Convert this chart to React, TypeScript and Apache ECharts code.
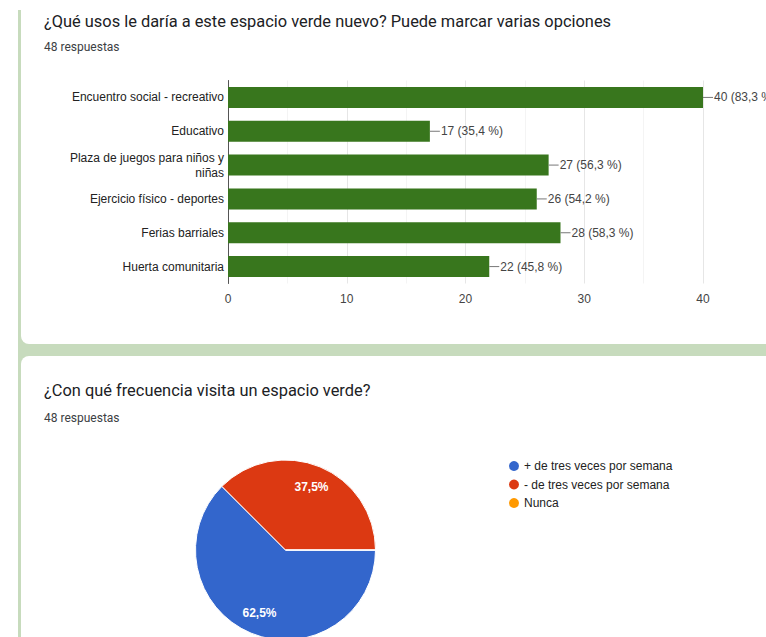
import React, { useEffect, useRef } from "react";
import * as echarts from "echarts";

const usesCategories = [
  "Encuentro social - recreativo",
  "Educativo",
  "Plaza de juegos para niños y\nniñas",
  "Ejercicio físico - deportes",
  "Ferias barriales",
  "Huerta comunitaria",
];
const usesValues = [40, 17, 27, 26, 28, 22];
const totalResponses = 48;
const xTickMax = 40;
const xTickStep = 10;

const freqCategories = [
  "+ de tres veces por semana",
  "- de tres veces por semana",
  "Nunca",
];
const freqValues = [30, 18, 0];
const freqColors = ["#3366cc", "#dc3912", "#ff9900"];

const title1 = "¿Qué usos le daría a este espacio verde nuevo? Puede marcar varias opciones";
const title2 = "¿Con qué frecuencia visita un espacio verde?";
const subtitle1 = "48 respuestas";
const subtitle2 = "48 respuestas";

const fmtPct = (v: number) => v.toFixed(1).replace(".", ",");

export default function App() {
  const ref = useRef<HTMLDivElement>(null);

  useEffect(() => {
    if (!ref.current) return;
    const chart = echarts.init(ref.current, undefined, { renderer: "svg" });
    const pieData = freqCategories.map((n, i) => ({
      name: n,
      value: freqValues[i],
      itemStyle: { color: freqColors[i] },
    }));
    chart.setOption({
      animation: false,
      backgroundColor: "transparent",
      grid: { left: 228, right: 63, top: 80.5, bottom: 353.5, containLabel: false },
      xAxis: {
        type: "value",
        min: 0,
        max: xTickMax,
        interval: xTickStep,
        axisLine: { show: false },
        axisTick: { show: false },
        axisLabel: { color: "#444", fontSize: 12, fontFamily: "Liberation Sans", margin: 9 },
        splitLine: { show: true, lineStyle: { color: "#e6e6e6", width: 1 } },
        minorTick: { show: false, splitNumber: 2 },
        minorSplitLine: { show: true, lineStyle: { color: "#f4f4f4", width: 1 } },
      },
      yAxis: {
        type: "category",
        inverse: true,
        data: usesCategories,
        axisLine: { show: true, lineStyle: { color: "#555", width: 1 } },
        axisTick: { show: false },
        axisLabel: {
          color: "#222",
          fontSize: 12,
          fontFamily: "Liberation Sans",
          margin: 4,
          align: "right",
          lineHeight: 15,
        },
      },
      legend: {
        orient: "vertical",
        left: 507,
        top: 459,
        padding: 0,
        itemWidth: 12,
        itemHeight: 12,
        itemGap: 4.5,
        icon: "circle",
        selectedMode: false,
        textStyle: { color: "#222", fontSize: 12, fontFamily: "Liberation Sans", padding: [0, 0, 0, -1] },
        data: freqCategories.map((n, i) => ({ name: n, itemStyle: { color: freqColors[i] } })),
      },
      series: [
        {
          type: "bar",
          data: usesValues,
          barWidth: 21,
          itemStyle: { color: "#38761d" },
          silent: true,
          label: {
            show: true,
            position: "right",
            distance: 0,
            formatter: (p: any) =>
              `{ln| }{t|${p.value} (${fmtPct((p.value / totalResponses) * 100)} %)}`,
            rich: {
              ln: { width: 10, height: 1, backgroundColor: "#777" },
              t: { color: "#444", fontSize: 12, fontFamily: "Liberation Sans", padding: [0, 0, 0, 1] },
            },
          },
        },
        {
          type: "pie",
          center: [285.5, 550],
          radius: 90,
          startAngle: 0,
          clockwise: true,
          silent: true,
          avoidLabelOverlap: false,
          itemStyle: { borderColor: "#fff", borderWidth: 1 },
          label: { show: false },
          labelLine: { show: false },
          data: pieData,
        },
        {
          type: "pie",
          center: [285.5, 550],
          radius: [40, 90],
          startAngle: 0,
          clockwise: true,
          silent: true,
          avoidLabelOverlap: false,
          itemStyle: { color: "rgba(0,0,0,0)", borderWidth: 0 },
          label: {
            show: true,
            position: "inside",
            color: "#fff",
            fontSize: 12,
            fontFamily: "Liberation Sans",
            fontWeight: "bold",
            formatter: (p: any) => (p.value > 0 ? `${fmtPct(p.percent)}%` : ""),
          },
          labelLine: { show: false },
          data: freqCategories.map((n, i) => ({
            name: n,
            value: freqValues[i],
            itemStyle: { color: "rgba(0,0,0,0)" },
          })),
        },
      ],
      graphic: [
        {
          type: "text",
          x: 44,
          y: 21,
          style: {
            text: title1,
            fontSize: 16.4,
            fontFamily: "Roboto",
            fill: "#202124",
            verticalAlign: "middle",
          },
        },
        {
          type: "text",
          x: 44,
          y: 47,
          style: {
            text: subtitle1,
            fontSize: 12,
            fontFamily: "Roboto",
            fill: "#3c4043",
            verticalAlign: "middle",
          },
        },
        {
          type: "text",
          x: 44,
          y: 390,
          style: {
            text: title2,
            fontSize: 16.4,
            fontFamily: "Roboto",
            fill: "#202124",
            verticalAlign: "middle",
          },
        },
        {
          type: "text",
          x: 44,
          y: 418,
          style: {
            text: subtitle2,
            fontSize: 12,
            fontFamily: "Roboto",
            fill: "#3c4043",
            verticalAlign: "middle",
          },
        },
      ],
    });
    return () => chart.dispose();
  }, []);

  return (
    <div
      style={{
        position: "absolute",
        left: 0,
        top: 0,
        width: 766,
        height: 637,
        overflow: "hidden",
        background: "#fff",
      }}
    >
      <div style={{ position: "absolute", left: 18, top: 10, width: 748, height: 627, background: "#c7dbbd" }} />
      <div
        style={{
          position: "absolute",
          left: 21,
          top: -10,
          width: 760,
          height: 354,
          background: "#fff",
          borderRadius: "0 0 0 8px",
        }}
      />
      <div
        style={{
          position: "absolute",
          left: 21,
          top: 356,
          width: 760,
          height: 300,
          background: "#fff",
          borderRadius: "8px 0 0 0",
        }}
      />
      <div ref={ref} style={{ position: "absolute", left: 0, top: 0, width: 766, height: 637 }} />
    </div>
  );
}
